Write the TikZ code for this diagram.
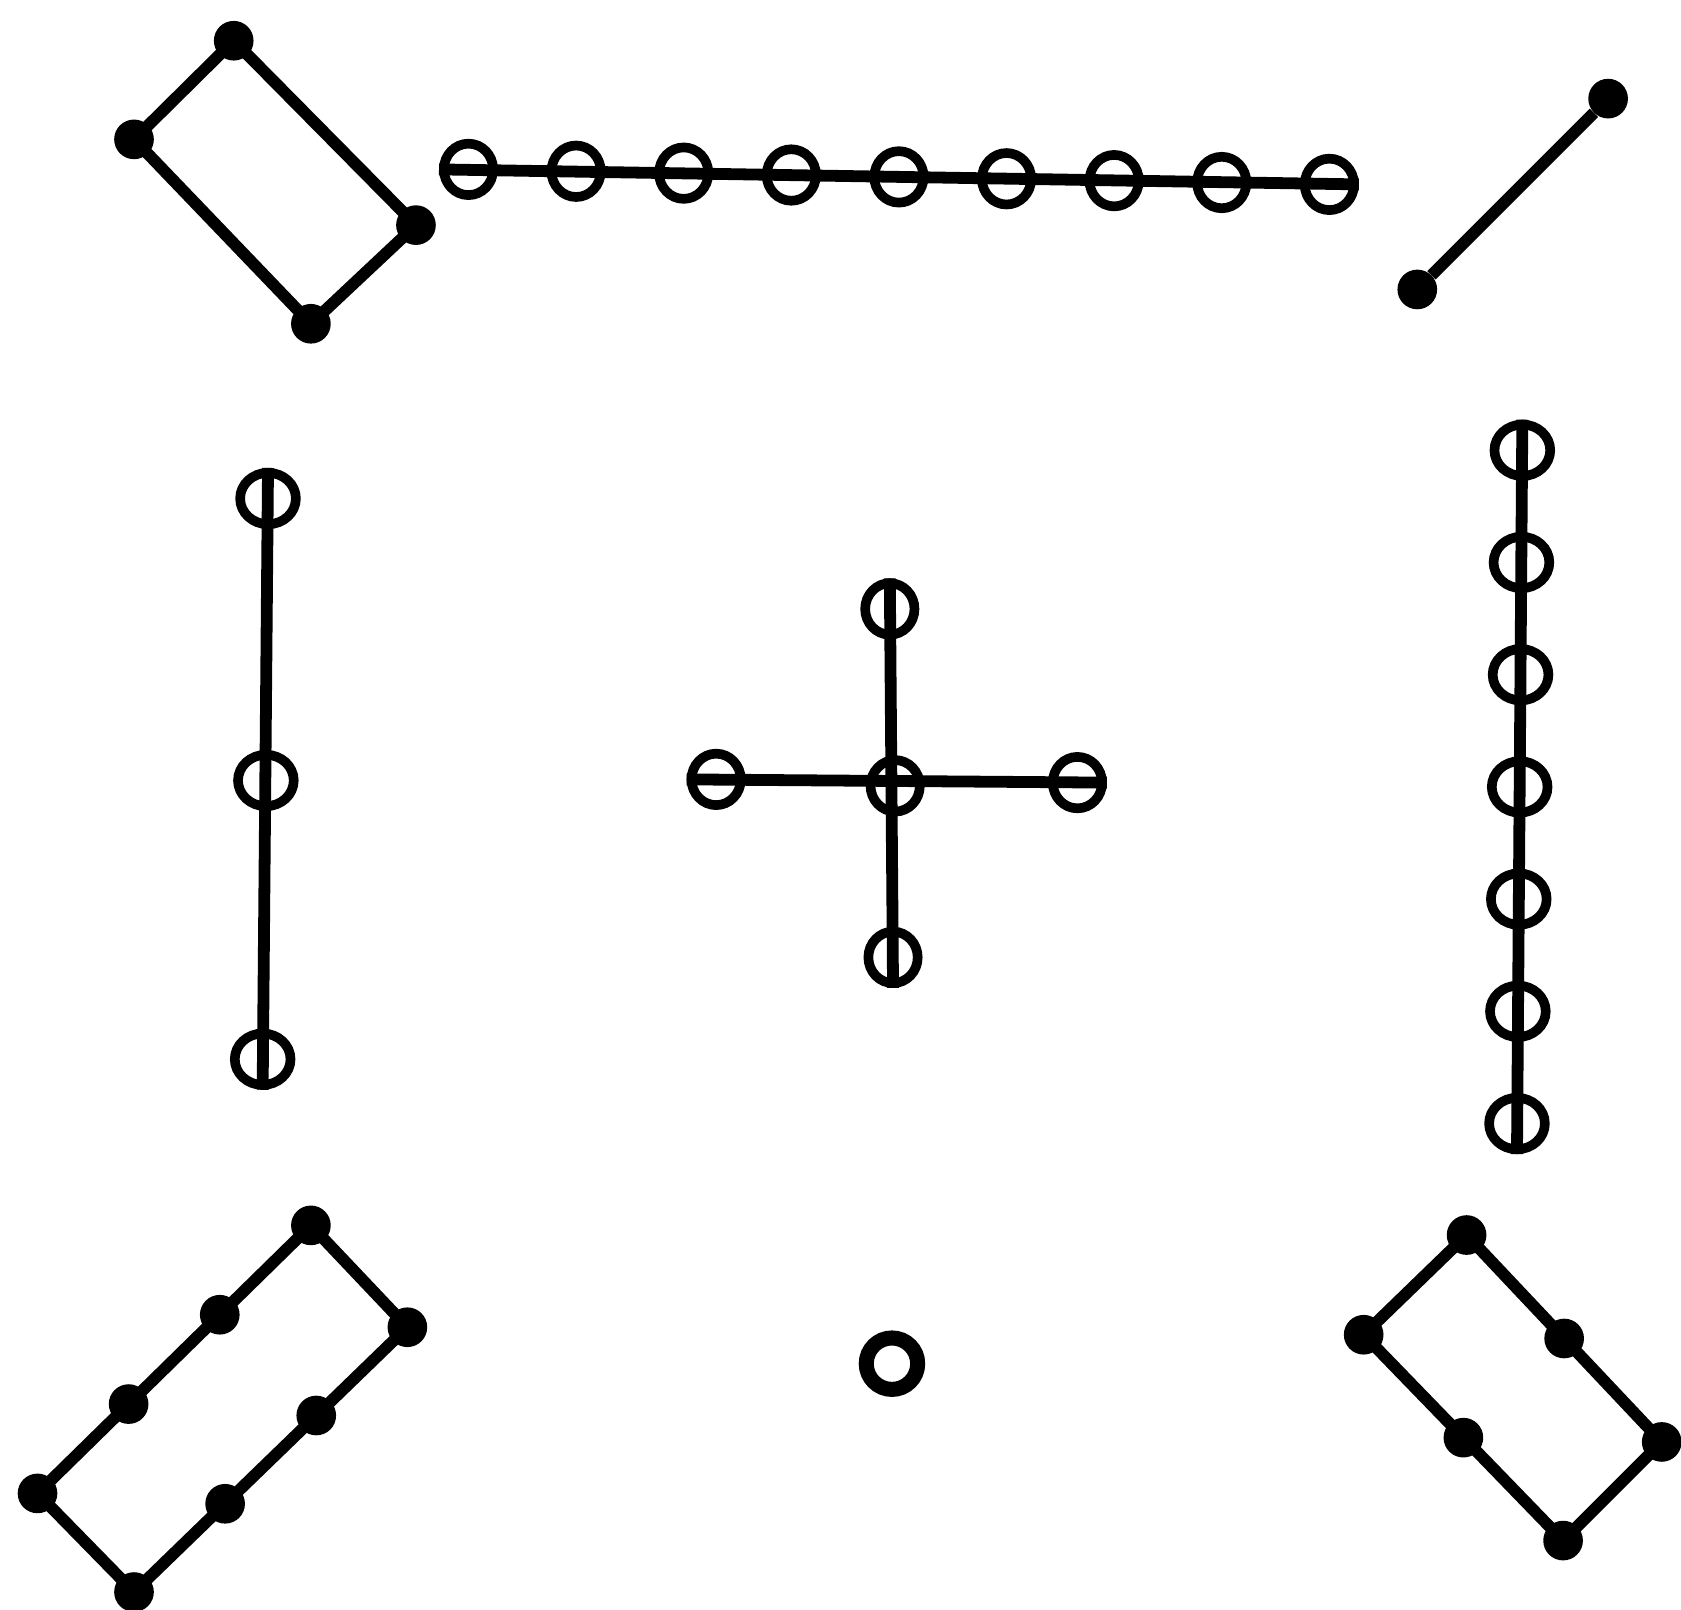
\documentclass[tikz,border=0pt]{standalone}
\usetikzlibrary{calc,shapes.geometric}

\begin{document}
\begin{tikzpicture}[x=1pt, y=-1pt,
          link/.style={line width=11pt},
          ring/.style={ellipse, draw, line width=9pt, minimum width=46pt, minimum height=48pt, inner sep=0pt},
          wring/.style={ring, minimum width=52pt, minimum height=48pt},
          dot/.style={circle, fill, inner sep=0pt, minimum size=37pt},
          hole/.style={circle, draw, line width=14pt, minimum size=48pt, inner sep=0pt}]
        \useasboundingbox (0,0) rectangle (1568,1501);
        \foreach \i in {0,...,8} { \node[ring] (top\i) at ($(437,158)!\i/8!(1240,172)$) {}; }
        \draw[link] (top0.west) -- (top8.east);
        \foreach \i in {0,...,6} { \node[wring] (east\i) at ($(1420,420)!\i/6!(1415,1048)$) {}; }
        \draw[link] (east0.north) -- (east6.south);
        \node[wring] (west1) at (250,465) {};
        \node[wring] (west2) at (248,728) {};
        \node[wring] (west3) at (245,988) {};
        \draw[link] (west1.north) -- (west3.south);
        \node[ring] (mid) at (835,733) {};
        \node[ring] (midN) at (830,568) {};
        \node[ring] (midS) at (833,893) {};
        \node[ring] (midW) at (668,727) {};
        \node[ring] (midE) at (1005,730) {};
        \draw[link] (midW.west) -- (midE.east);
        \draw[link] (midN.north) -- (midS.south);
        \node[hole] (south) at (832,1272) {};
        \node[dot] (ne1) at (1322,270) {};
        \node[dot] (ne2) at (1500,92) {};
        \draw[link] (ne1) -- (ne2);
        \node[dot] (nwT) at (218,38) {};
        \node[dot] (nwR) at (388,210) {};
        \node[dot] (nwB) at (290,302) {};
        \node[dot] (nwL) at (125,130) {};
        \draw[link] (nwT.center) -- (nwR.center) -- (nwB.center) -- (nwL.center) -- cycle;
        \node[dot] (swT) at (290,1143) {};
        \node[dot] (swR) at (380,1238) {};
        \node[dot] (swB) at (125,1485) {};
        \node[dot] (swL) at (35,1393) {};
        \draw[link] (swT.center) -- (swR.center) -- (swB.center) -- (swL.center) -- cycle;
        \foreach \a/\b in {swL/swT, swB/swR} {
          \node[dot] at ($(\a)!1/3!(\b)$) {};
          \node[dot] at ($(\a)!2/3!(\b)$) {};
        }
        \node[dot] (seT) at (1368,1152) {};
        \node[dot] (seR) at (1550,1345) {};
        \node[dot] (seB) at (1458,1437) {};
        \node[dot] (seL) at (1272,1245) {};
        \draw[link] (seT.center) -- (seR.center) -- (seB.center) -- (seL.center) -- cycle;
        \node[dot] (seN) at ($(seT)!0.5!(seR)$) {};
        \node[dot] (seS) at ($(seL)!0.5!(seB)$) {};
      \end{tikzpicture}
\end{document}
